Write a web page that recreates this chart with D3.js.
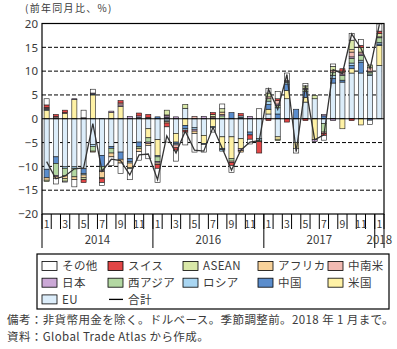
<!DOCTYPE html>
<html><head><meta charset="utf-8">
<script src="https://cdn.jsdelivr.net/npm/d3@7/dist/d3.min.js"></script>
<style>
body{margin:0;background:#fff}
text{font-family:"Noto Sans CJK JP","Noto Sans",sans-serif;fill:#3a3a3a}
</style>
</head><body><svg id="c" width="397" height="349"></svg>
<script>
// ---- data ----
const monthLabels = ["1","","3","","5","","7","","9","","11","",
                     "1","","3","","5","","7","","9","","11","",
                     "1","","3","","5","","7","","9","","11","",
                     "1"];
const yearLabels = ["2014","2016","2017","2018"];
const yearSpans  = [12,12,12,1];
const yTicks = [-20,-15,-10,-5,0,5,10,15,20];

const EU     = [-10.6,-8.0,-10.1,-10.1,-10.5,-5.4,-7.7,-5.8,-7.0,-8.4,-4.9,-2.1,-4.4,-0.3,-3.1,2.2,-1.8,-3.5,0,-3.8,-3.8,-4.2,-2.8,-4.2,1.0,-3.8,4.2,-5.0,3.5,4.2,-1.0,7.5,7.7,9.6,9.6,9.1,11.2];
const US     = [1.8,0,1.1,4.0,0,5.0,0,1.3,2.6,0,0,-1.9,-3.3,0,-1.8,-1.4,0,-1.7,-1.6,-2.4,-4.6,-2.1,0,0,1.0,-0.5,1.7,-1.2,1.0,-4.4,0,0,-2.1,0.9,-1.3,0,4.2];
const China  = [-1.8,-1.4,0,0,-1.0,0.2,-2.3,-0.4,-1.5,-0.6,-1.0,0,0.4,0.3,-0.3,-0.7,0,-0.2,0,-0.3,1.3,0.3,-0.6,0,1.0,1.0,1.4,2.0,1.2,0,0.6,1.0,0.4,0.7,2.3,-0.3,0.3];
const Russia = [0.2,0.2,-0.3,-0.3,-0.3,-0.4,0,0,0,-0.3,0.3,0,-0.3,-0.3,-0.3,-0.3,-0.4,0,-0.3,-0.3,0,0.3,0,-0.3,0.7,1.3,0.3,0,0,0,0,0.6,0,0.5,0.4,0.3,0.3];
const WAsia  = [0,-2.5,-1.6,-1.8,0,-1.0,-0.8,-1.0,0,0,-0.4,-0.9,-1.0,0,0,0,0,0,0,0.6,-0.5,0,0,-0.3,0.5,0.5,0.2,0,0.4,0,-1.8,0.7,1.0,1.0,1.0,0.4,1.0];
const Japan  = [0.2,-0.3,0,0.2,0.2,0.2,-0.3,0.3,0.3,0.5,0.3,-0.3,-0.3,0.3,0.4,0,-0.4,0.5,0.2,0.3,0,-0.4,0.5,0,0,0.3,0.2,0,0.3,-0.4,0.3,-0.4,0.3,0.3,0.3,0.2,0.2];
const LatAm  = [0.2,0.3,0.2,0,0,0,0,0,0.4,0,0,0.3,0,0.2,-0.6,0,0.5,0,0.3,0,-0.3,0,0,0,0.4,0.7,0,0,0,0,-0.3,0.4,0.3,1.0,0.4,0.7,0];
const Africa = [-0.5,-0.3,-0.6,-0.6,-0.6,-0.2,-1.2,-0.8,-0.8,-0.9,-0.6,-0.4,-0.3,-0.3,0,0,-0.5,0,0,0.5,0,-0.3,0,0,0,0,0,0,0,0,0,0,0.3,0.5,0,0,0];
const ASEAN  = [-0.3,0,-0.5,0,-0.4,0,-0.3,0,0,-0.3,0,0,0,1.0,0,0.8,0,0,0.4,0.7,0,0,0,0,0.8,-0.3,0,0,0.5,0.7,0,0.8,0,2.0,1.0,0.6,0.7];
const Swiss  = [0.5,0.4,0.5,0,-0.6,0,-0.8,0,0.5,0,0.6,0.6,-0.8,-0.8,-0.5,-0.4,0,0,0.4,0,-0.6,0.5,-0.9,-2.4,-0.4,0.4,-0.7,0,-0.4,0,-0.4,0,0.5,-0.4,0.4,0,0.5];
const Other  = [1.3,-1.2,-0.2,-1.5,1.6,0.8,-0.6,-1.8,-2.2,-2.3,-1.8,-2.8,-3.0,-3.2,-2.3,-2.7,-3.9,-1.6,-0.9,1.0,-1.5,0,-1.0,2.1,1.0,1.5,1.6,-1.0,0.5,0,-1.0,0.5,0,1.4,1.2,-0.9,1.5];
const total  = [-9.0,-12.6,-12.0,-10.5,-10.3,-1.0,-11.0,-8.5,-8.8,-11.8,-7.6,-7.4,-12.8,-3.6,-7.2,-2.6,-6.6,-6.8,-1.8,-6.2,-10.8,-6.6,-4.9,-4.6,6.2,2.0,9.3,-6.9,7.0,-4.4,-3.4,10.3,9.5,17.8,14.8,10.5,19.8];

const seriesNames = ["EU","米国","中国","ロシア","西アジア","日本","中南米","アフリカ","ASEAN","スイス","その他"];
const seriesValues = [EU,US,China,Russia,WAsia,Japan,LatAm,Africa,ASEAN,Swiss,Other];
const colors = {"EU":"#dcedfa","米国":"#fff2a6","中国":"#5b8dcc","ロシア":"#a9d6f2","西アジア":"#b3d8a2",
  "日本":"#cba8d6","中南米":"#f2bab2","アフリカ":"#f8d29a","ASEAN":"#d9e8a8","スイス":"#e24646","その他":"#ffffff"};
const legendRows = [["その他","スイス","ASEAN","アフリカ","中南米"],["日本","西アジア","ロシア","中国","米国"],["EU","合計"]];

// ---- chart ----
const svg = d3.select("#c");
const L=42, R=384, T=23.5, B=214;
const n = monthLabels.length;
const x = d3.scaleBand().domain(d3.range(n)).range([L,R]).paddingInner(0.45).paddingOuter(0.225);
const y = d3.scaleLinear().domain([-20,20]).range([B,T]);
const rows = d3.range(n).map(i=>{const o={i}; seriesNames.forEach((s,k)=>o[s]=seriesValues[k][i]); return o;});
const stack = d3.stack().keys(seriesNames).offset(d3.stackOffsetDiverging)(rows);

// gridlines
svg.append("g").selectAll("line").data(yTicks.filter(v=>v!==0&&v!==20&&v!==-20)).join("line")
  .attr("x1",L).attr("x2",R).attr("y1",d=>y(d)).attr("y2",d=>y(d))
  .attr("stroke","#000").attr("stroke-width",1).attr("stroke-dasharray","4,2");

// bars
svg.append("g").selectAll("g").data(stack).join("g").attr("fill",d=>colors[d.key])
  .selectAll("rect").data(d=>d.filter(p=>p[1]!==p[0])).join("rect")
  .attr("x",d=>x(d.data.i)).attr("width",x.bandwidth())
  .attr("y",d=>y(Math.max(d[0],d[1]))).attr("height",d=>Math.abs(y(d[0])-y(d[1])))
  .attr("stroke","#1a1a1a").attr("stroke-width",0.6);

// zero line
svg.append("line").attr("x1",L).attr("x2",R).attr("y1",y(0)).attr("y2",y(0)).attr("stroke","#000").attr("stroke-width",1);

// total line
svg.append("path").datum(total)
  .attr("d",d3.line().x((d,i)=>x(i)+x.bandwidth()/2).y(d=>y(d)))
  .attr("fill","none").attr("stroke","#333").attr("stroke-width",1.3);

// frame
svg.append("rect").attr("x",L).attr("y",T).attr("width",R-L).attr("height",B-T)
  .attr("fill","none").attr("stroke","#000").attr("stroke-width",1.2);

// y axis labels
const yAxis = d3.axisLeft(y).tickValues(yTicks).tickSize(0).tickPadding(4);
const ya = svg.append("g").attr("transform",`translate(${L},0)`).call(yAxis);
ya.select(".domain").remove();
ya.selectAll("text").attr("font-size",11.5).style("font-family","'Noto Sans',sans-serif").attr("fill","#3a3a3a");

svg.append("text").attr("x",25).attr("y",12).attr("font-size",10).attr("letter-spacing",1.3).text("(前年同月比、%)");

// x axis: month cells
const step = x.step();
const bx = i => L + i*step;
const xa = svg.append("g");
xa.selectAll("line.m").data(d3.range(n+1)).join("line").attr("class","m")
  .attr("x1",i=>bx(i)).attr("x2",i=>bx(i)).attr("y1",B).attr("y2",229)
  .attr("stroke","#000").attr("stroke-width",1);
xa.selectAll("text.m").data(monthLabels).join("text").attr("class","m")
  .attr("x",(d,i)=>bx(i)+step/2).attr("y",228).attr("text-anchor","middle").attr("font-size",10.5).text(d=>d);
// years
let acc=0; const yb=[0];
yearSpans.forEach(s=>{acc+=s; yb.push(acc);});
xa.selectAll("line.y").data(yb).join("line").attr("class","y")
  .attr("x1",i=>bx(i)).attr("x2",i=>bx(i)).attr("y1",B).attr("y2",248)
  .attr("stroke","#000").attr("stroke-width",1);
xa.selectAll("text.y").data(yearLabels).join("text").attr("class","y")
  .attr("x",(d,k)=>(bx(yb[k])+bx(yb[k+1]))/2).attr("y",244).attr("text-anchor","middle").attr("font-size",11.5).text(d=>d);

// legend
const lg = svg.append("g");
lg.append("rect").attr("x",37).attr("y",254).attr("width",352).attr("height",55).attr("fill","#fff").attr("stroke","#000").attr("stroke-width",1.2);
const colX=[42,108,183,258,328], rowY=[266,282.7,299.4];
legendRows.forEach((row,r)=>row.forEach((name,c)=>{
  const g=lg.append("g").attr("transform",`translate(${colX[c]},${rowY[r]})`);
  if(name==="合計"){
    g.append("line").attr("x1",1).attr("x2",15).attr("y1",0).attr("y2",0).attr("stroke","#000").attr("stroke-width",1.3);
  } else {
    g.append("rect").attr("x",0).attr("y",-4.5).attr("width",15).attr("height",9).attr("fill",colors[name]).attr("stroke","#000").attr("stroke-width",0.8);
  }
  g.append("text").attr("x",20).attr("y",4.2).attr("font-size",11.5).attr("letter-spacing",0.4).text(name);
}));

// notes
svg.append("text").attr("x",7).attr("y",324).attr("font-size",11.5).attr("letter-spacing",0.4).text("備考：非貨幣用金を除く。ドルベース。季節調整前。2018 年 1 月まで。");
svg.append("text").attr("x",7).attr("y",341).attr("font-size",11.5).attr("letter-spacing",0.4).text("資料：Global Trade Atlas から作成。");
</script></body></html>
